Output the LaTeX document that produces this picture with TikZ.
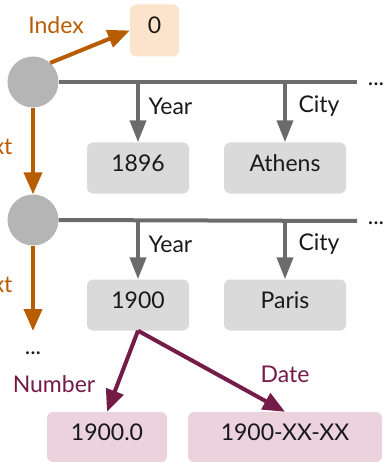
\documentclass[tikz,border=0pt]{standalone}
\usepackage{fontspec}
\setmainfont{Lato}
\usetikzlibrary{arrows.meta}
\definecolor{linkgray}{HTML}{6B6B6B}
\definecolor{nodegray}{HTML}{B5B5B5}
\definecolor{boxgray}{HTML}{DADADA}
\definecolor{idxorange}{HTML}{B85C00}
\definecolor{idxfill}{HTML}{FCE4CC}
\definecolor{convpurple}{HTML}{741B47}
\definecolor{convfill}{HTML}{EBD2DC}
\tikzset{
  x=1pt, y=-1pt,
  every node/.style={font=\fontsize{23}{27}\selectfont, text=black!90},
  rownode/.style={circle, fill=nodegray, minimum size=51pt, inner sep=0pt},
  valbox/.style={rounded corners=6pt, fill=boxgray, minimum height=51pt, inner sep=0pt,
                 text height=16.5pt, text depth=10pt},
  idxbox/.style={valbox, fill=idxfill},
  convbox/.style={valbox, fill=convfill, minimum height=50pt},
  rowline/.style={draw=linkgray, line width=4pt},
  fieldarrow/.style={draw=linkgray, line width=4pt, -{Triangle[length=22pt,width=16pt]}},
  nextarrow/.style={draw=idxorange, line width=4pt, -{Triangle[length=22pt,width=18pt]}},
  convarrow/.style={draw=convpurple, line width=4pt, -{Triangle[length=22pt,width=18pt]}},
  orangelbl/.style={text=idxorange},
  purplelbl/.style={text=convpurple},
}
\begin{document}
\begin{tikzpicture}
\useasboundingbox (0,0) rectangle (390,462);
\clip (0,0) rectangle (390,462);

% rows of the series
\node[rownode] (c1) at (33,82) {};
\node[rownode] (c2) at (33,220) {};
\coordinate (r1end) at (357,82);
\coordinate (r2end) at (357,221);
\node (more1) at (376,84) {...};
\node (more2) at (376,223) {...};

% field values
\node[valbox, minimum width=102pt] (y1) at (138,168) {1896};
\node[valbox, minimum width=122pt] (ct1) at (285,168) {Athens};
\node[valbox, minimum width=102pt] (y2) at (138,305) {1900};
\node[valbox, minimum width=122pt] (ct2) at (285,305) {Paris};

% index value
\node[idxbox, minimum width=49pt, minimum height=52pt] (zero) at (154.5,30.5) {0};

% converted values
\node[convbox, minimum width=120pt] (num) at (107,437) {1900.0};
\node[convbox, minimum width=194pt] (date) at (285,437) {1900-XX-XX};

% row lines
\draw[rowline] (c1.east) -- (r1end);
\draw[rowline] (c2.east) -- (r2end);

% field arrows
\draw[fieldarrow] (y1.north |- c1) -- (y1.north);
\draw[fieldarrow] (ct1.north |- c1) -- (ct1.north);
\draw[fieldarrow] (y2.north |- r2end) -- (y2.north);
\draw[fieldarrow] (ct2.north |- r2end) -- (ct2.north);
\node[anchor=west] (yl1) at (145,106) {Year};
\node[anchor=west] (cl1) at (295,106) {City};
\node[anchor=west] (yl2) at (145,244) {Year};
\node[anchor=west] (cl2) at (295,244) {City};

% index and next links
\draw[nextarrow] (c1.48) -- (zero.west);
\node[orangelbl] (il) at (56,25) {Index};
\draw[nextarrow] (c1.south) -- (c2.north);
\coordinate (c3) at (33,331);
\draw[nextarrow] (c2.south) -- (c3);
\node[orangelbl, anchor=east] (nl1) at (16,146) {Next};
\node[orangelbl, anchor=east] (nl2) at (16,284) {Next};
\node (more3) at (33,353) {...};

% conversions
\draw[convarrow] (y2.south) -- (num.north);
\draw[convarrow] (y2.south) -- (date.north);
\node[purplelbl] (numl) at (54,384) {Number};
\node[purplelbl] (datl) at (285,374) {Date};
\end{tikzpicture}
\end{document}
